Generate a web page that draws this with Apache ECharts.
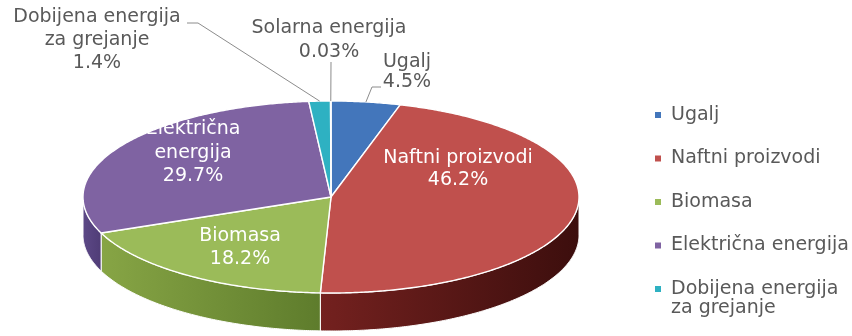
<!DOCTYPE html>
<html>
<head>
<meta charset="utf-8">
<script src="https://cdn.jsdelivr.net/npm/echarts@6/dist/echarts.min.js"></script>
<style>
  html, body { margin: 0; padding: 0; background: #ffffff; }
  #chart { width: 852px; height: 336px; }
</style>
</head>
<body>
<div id="chart"></div>
<script>
// Final energy consumption by source (share, %)
const categories = ['Ugalj', 'Naftni proizvodi', 'Biomasa', 'Električna energija', 'Dobijena energija za grejanje', 'Solarna energija'];
const shares = [4.5, 46.2, 18.2, 29.7, 1.4, 0.03];
// Names as they are broken over lines on the slices and in the legend
const sliceNames = ['Ugalj', 'Naftni proizvodi', 'Biomasa', 'Električna\nenergija', 'Dobijena energija\nza grejanje', 'Solarna energija'];
const legendNames = ['Ugalj', 'Naftni proizvodi', 'Biomasa', 'Električna energija', 'Dobijena energija za grejanje'];
const legendFirstLines = ['Ugalj', 'Naftni proizvodi', 'Biomasa', 'Električna energija', 'Dobijena energija'];
const legendSecondLine = 'za grejanje';

// Slice colours: top face and side wall (left -> right)
const topColors = ['#4376bb', '#c0504d', '#9bbb59', '#7f63a2', '#2eb1c2', '#f79646'];
const sideColors = [
  ['#2f5a8f', '#24466f'],
  ['#74211f', '#3c0e0d'],
  ['#87a545', '#5e7c2c'],
  ['#5d4987', '#4f3c76'],
  ['#1f8794', '#176a74'],
  ['#b86a2c', '#8d501f']
];

// Pie geometry (tilted disc)
const CX = 331, CY = 197, RX = 248, RY = 96, DEPTH = 38;

// Label placement: centre of text block, line height, optional leader bend points
const labelLayout = [
  { x: 407, y: 72, lh: 20, inside: false, leader: [[372, 87], [381, 87]] },
  { x: 458, y: 169, lh: 22, inside: true },
  { x: 240, y: 248, lh: 23, inside: true },
  { x: 193, y: 153, lh: 23.5, inside: true },
  { x: 97, y: 40, lh: 23, inside: false, leader: [[198, 23], [187, 23]] },
  { x: 329, y: 40, lh: 24, inside: false, leader: [[331, 62]] }
];

const FONT = '"DejaVu Sans", sans-serif';
const TEXT_GRAY = '#595959';

const total = shares.reduce((s, v) => s + v, 0);
const startAngles = [];
const endAngles = [];
let acc = 0;
shares.forEach(v => {
  startAngles.push(acc / total * 360);
  acc += v;
  endAngles.push(acc / total * 360);
});

// Point on the rim; angle in degrees, clockwise from 12 o'clock
function rim(theta, dy) {
  const r = theta * Math.PI / 180;
  return [CX + RX * Math.sin(r), CY - RY * Math.cos(r) + (dy || 0)];
}

function arc(a, b, dy) {
  const pts = [];
  const n = Math.max(2, Math.ceil(Math.abs(b - a) / 0.5));
  for (let k = 0; k <= n; k++) pts.push(rim(a + (b - a) * k / n, dy));
  return pts;
}

function renderSlice(params, api) {
  const i = params.seriesIndex;
  const a0 = startAngles[i], a1 = endAngles[i];
  const color = api.visual('color');
  const children = [];

  // front side wall (visible between 3 and 9 o'clock)
  const s0 = Math.max(a0, 90), s1 = Math.min(a1, 270);
  if (s1 > s0) {
    children.push({
      type: 'polygon',
      shape: { points: arc(s0, s1, 0).concat(arc(s1, s0, DEPTH)) },
      style: {
        fill: new echarts.graphic.LinearGradient(0, 0, 1, 0, [
          { offset: 0, color: sideColors[i][0] },
          { offset: 1, color: sideColors[i][1] }
        ]),
        stroke: '#ffffff',
        lineWidth: 1
      },
      z2: 1
    });
  }

  // top face
  children.push({
    type: 'polygon',
    shape: { points: [[CX, CY]].concat(arc(a0, a1, 0)) },
    style: { fill: color, stroke: '#ffffff', lineWidth: 1.4, lineJoin: 'round' },
    z2: 2
  });

  // label
  const lay = labelLayout[i];
  const text = sliceNames[i] + '\n' + shares[i] + '%';
  if (lay.leader) {
    const anchor = rim((a0 + a1) / 2, 0);
    children.push({
      type: 'polyline',
      shape: { points: [anchor].concat(lay.leader) },
      style: { stroke: '#8c8c8c', lineWidth: 1, fill: null },
      z2: 3
    });
  }
  children.push({
    type: 'text',
    style: {
      text: text,
      x: lay.x,
      y: lay.y,
      align: 'center',
      verticalAlign: 'middle',
      fontFamily: FONT,
      fontSize: 19,
      lineHeight: lay.lh,
      fill: lay.inside ? '#ffffff' : TEXT_GRAY
    },
    z2: 4
  });

  return { type: 'group', children: children };
}

const chart = echarts.init(document.getElementById('chart'), null, { renderer: 'canvas' });

chart.setOption({
  backgroundColor: '#ffffff',
  animation: false,
  legend: {
    orient: 'vertical',
    left: 650,
    top: 100,
    icon: 'rect',
    itemWidth: 6,
    itemHeight: 6,
    itemGap: 23.5,
    selectedMode: false,
    data: legendNames,
    formatter: name => legendFirstLines[legendNames.indexOf(name)],
    textStyle: {
      fontFamily: FONT,
      fontSize: 19,
      lineHeight: 20,
      color: TEXT_GRAY,
      padding: [0, 0, 0, 5]
    }
  },
  // continuation line of the last legend entry
  graphic: [{
    type: 'text',
    left: 671,
    top: 299,
    style: {
      text: legendSecondLine,
      fontFamily: FONT,
      fontSize: 19,
      fill: TEXT_GRAY
    }
  }],
  series: categories.map((name, i) => ({
    type: 'custom',
    name: name,
    coordinateSystem: 'none',
    itemStyle: { color: topColors[i] },
    renderItem: renderSlice,
    data: [[shares[i]]]
  }))
});
</script>
</body>
</html>
